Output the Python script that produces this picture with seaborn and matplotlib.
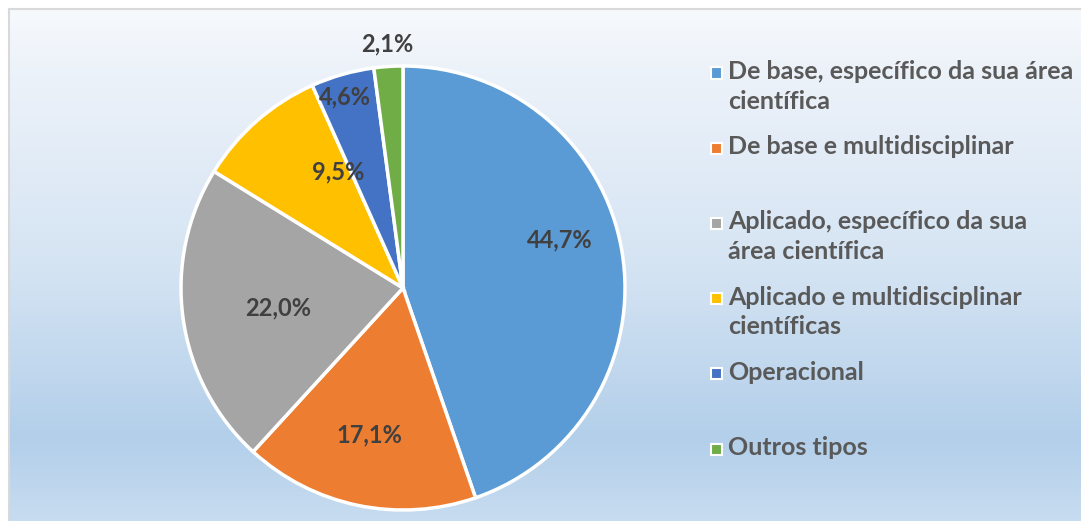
import numpy as np
import matplotlib
import matplotlib.pyplot as plt
import seaborn as sns
from matplotlib.patches import Rectangle

matplotlib.use("Agg")

# --- data ---
categories = [
    "De base, específico da sua área\ncientífica",
    "De base e multidisciplinar",
    "Aplicado, específico da sua\nárea científica",
    "Aplicado e multidisciplinar\ncientíficas",
    "Operacional",
    "Outros tipos",
]
shares = [44.7, 17.1, 22.0, 9.5, 4.6, 2.1]
colors = ["#5B9BD5", "#ED7D31", "#A5A5A5", "#FFC000", "#4472C4", "#70AD47"]

# label placement (radius fraction, angle nudge in degrees)
label_r = [0.74, 0.68, 0.57, 0.60, 0.90, 1.10]
label_nudge = [7.5, -1.0, 1.0, -12.0, 1.0, 0.0]

W, H = 1081, 521
sns.set_theme(style="white")
plt.rcParams["font.family"] = ["Lato", "DejaVu Sans"]

fig = plt.figure(figsize=(W / 100, H / 100), dpi=100)
fig.patch.set_facecolor("white")

# gradient background panel
bg = fig.add_axes([9 / W, 0, 1 - 9 / W, (H - 9) / H])
stops_y = [0.0, 0.1, 0.5, 0.84, 1.0]
stops_c = np.array([
    [0xF7, 0xFA, 0xFD],
    [0xEE, 0xF3, 0xFA],
    [0xD5, 0xE4, 0xF3],
    [0xB3, 0xCF, 0xEA],
    [0xC7, 0xDC, 0xF0],
]) / 255.0
yy = np.linspace(0, 1, 400)
grad = np.stack([np.interp(yy, stops_y, stops_c[:, k]) for k in range(3)], axis=1)
bg.imshow(grad[:, None, :], aspect="auto", extent=[0, 1, 1, 0])
bg.set_xlim(0, 1)
bg.set_ylim(1, 0)
bg.set_xticks([])
bg.set_yticks([])
for side, sp in bg.spines.items():
    sp.set_visible(side in ("top", "left"))
    sp.set_color("#D9D9D9")
    sp.set_linewidth(1.5)

# pie
cx, cy, r = 403, 288, 222
ax = fig.add_axes([(cx - r) / W, (H - cy - r) / H, 2 * r / W, 2 * r / H])
ax.patch.set_alpha(0)
wedges, _ = ax.pie(
    shares,
    colors=colors,
    startangle=90,
    counterclock=False,
    wedgeprops=dict(edgecolor="white", linewidth=2.5),
)
ax.set_xlim(-1, 1)
ax.set_ylim(-1, 1)
ax.set_axis_off()

for w, val, lr, dn in zip(wedges, shares, label_r, label_nudge):
    ang = np.deg2rad((w.theta1 + w.theta2) / 2 + dn)
    txt = f"{val:.1f}%".replace(".", ",")
    ax.text(lr * np.cos(ang), lr * np.sin(ang), txt, ha="center", va="center",
            fontsize=17, fontweight="bold", color="#404040", clip_on=False)

# legend, Excel-style fixed slots
slot_top = 73
slot_step = 75.2
for i, (lab, col) in enumerate(zip(categories, colors)):
    y = slot_top + i * slot_step
    fig.patches.append(Rectangle((711 / W, 1 - (y + 5.5) / H), 11 / W, 11 / H,
                                 transform=fig.transFigure, facecolor=col,
                                 edgecolor="white", linewidth=1.5))
    fig.text(728 / W, 1 - (y - 13) / H, lab, ha="left", va="top",
             fontsize=18, fontweight="bold", color="#595959", linespacing=1.36)

fig.savefig("out.png", dpi=100)
